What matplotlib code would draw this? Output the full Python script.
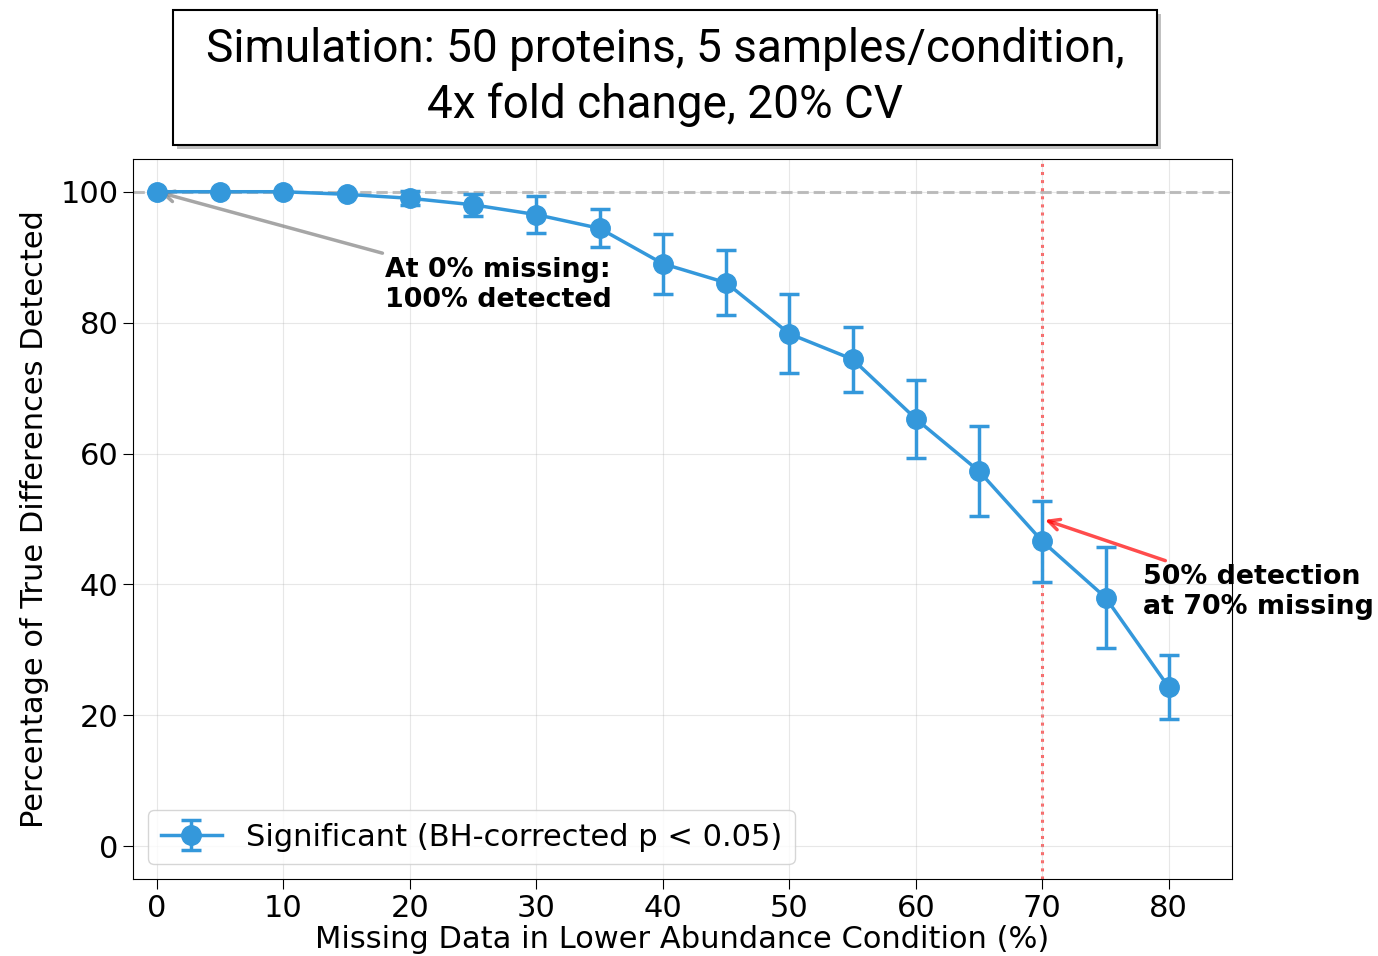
import matplotlib
matplotlib.use("Agg")
import matplotlib.pyplot as plt
from matplotlib.patches import Rectangle

plt.rcParams['font.family'] = ['DejaVu Sans']

# missing % in the lower abundance condition
missing = [0, 5, 10, 15, 20, 25, 30, 35, 40, 45, 50, 55, 60, 65, 70, 75, 80]
# mean % of true differences detected
detected = [100, 100, 100, 99.6, 99.0, 98.0, 96.5, 94.4, 89.0, 86.1, 78.3, 74.4, 65.3, 57.3, 46.6, 38.0, 24.3]
# standard deviation
err = [0, 0, 0, 0.3, 1.1, 1.7, 2.8, 2.9, 4.6, 5.0, 6.0, 5.0, 6.0, 6.9, 6.2, 7.7, 4.9]

blue = "#3498db"
W, H = 1378, 956

fig = plt.figure(figsize=(13.78, 9.56), dpi=100)
ax = fig.add_axes([133/W, 1 - 879/H, (1232-133)/W, (879-159)/H])

ax.errorbar(missing, detected, yerr=err, color=blue, marker="o", markersize=14,
            linewidth=2.5, capsize=7, capthick=2.5, elinewidth=2.5,
            label="Significant (BH-corrected p < 0.05)", zorder=3)

ax.axhline(100, color="gray", linestyle="--", linewidth=2.2, alpha=0.5, zorder=1)
ax.axvline(70, color="red", linestyle=":", linewidth=2.2, alpha=0.6, zorder=1)

ax.annotate("At 0% missing:\n100% detected", xy=(0, 100), xytext=(18.0, 85.8),
            fontsize=19.4, fontweight="bold", va="center", ha="left",
            arrowprops=dict(arrowstyle="->", color="gray", alpha=0.7, lw=2.5))
ax.annotate("50% detection\nat 70% missing", xy=(70, 50), xytext=(78.0, 38.8),
            fontsize=19.4, fontweight="bold", va="center", ha="left",
            arrowprops=dict(arrowstyle="->", color="red", alpha=0.7, lw=2.5),
            annotation_clip=False)

ax.set_xlim(-1.9, 85)
ax.set_ylim(-5, 105)
ax.set_xticks(range(0, 81, 10))
ax.set_yticks(range(0, 101, 20))
ax.tick_params(labelsize=22, length=7)
ax.grid(True, alpha=0.3)
ax.set_xlabel("Missing Data in Lower Abundance Condition (%)", fontsize=22, labelpad=2)
ax.set_ylabel("Percentage of True Differences Detected", fontsize=22, labelpad=8)
ax.legend(loc="lower left", fontsize=22, handlelength=2.0)

# title box with a soft shadow
bx0, bx1, by0, by1 = 173, 1157, 10, 145
fig.patches.append(Rectangle((bx0/W + 4/W, 1 - by1/H - 4/H), (bx1-bx0)/W, (by1-by0)/H,
                             transform=fig.transFigure, facecolor="#999999",
                             edgecolor="none", alpha=0.6, zorder=5))
fig.patches.append(Rectangle((bx0/W, 1 - by1/H), (bx1-bx0)/W, (by1-by0)/H,
                             transform=fig.transFigure, facecolor="white",
                             edgecolor="black", linewidth=1.5, zorder=6))
fig.text(665/W, 1 - 77/H,
         "Simulation: 50 proteins, 5 samples/condition,\n4x fold change, 20% CV",
         ha="center", va="center", fontsize=33, family="Roboto", linespacing=1.3,
         zorder=7)

fig.savefig("out.png", dpi=100)
